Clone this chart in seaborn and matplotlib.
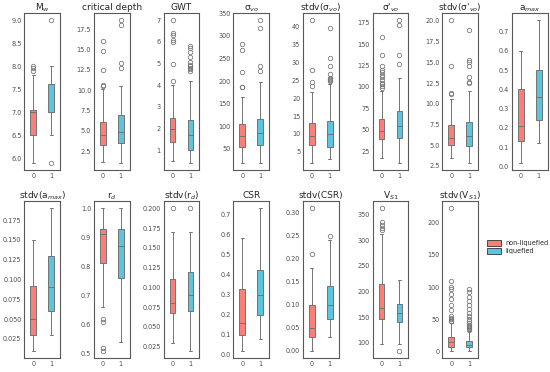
import matplotlib
matplotlib.use("Agg")
from matplotlib import pyplot as plt
from matplotlib.patches import Patch
from matplotlib.ticker import MultipleLocator
import pandas as pd
import seaborn as sns

# panel titles, in drawing order
titles = ["M$_w$", "critical depth", "GWT", "σ$_{vo}$", "stdv(σ$_{vo}$)",
          "σ'$_{vo}$", "stdv(σ'$_{vo}$)", "a$_{max}$", "stdv(a$_{max}$)",
          "r$_d$", "stdv(r$_d$)", "CSR", "stdv(CSR)", "V$_{S1}$", "stdv(V$_{S1}$)"]
ytick_step = [0.5, 2.5, 1, 50, 5, 25, 2.5, 0.1, 0.025, 0.1, 0.025, 0.1, 0.05, 50, 50]

# box summaries: whisker low, q1, median, q3, whisker high
non_liq_box = [
    [5.9, 6.5, 7.0, 7.04, 7.8],
    [1.2, 3.3, 4.5, 6.1, 10.2],
    [0.5, 1.4, 2.0, 2.5, 4.0],
    [19, 54, 77, 104, 164],
    [2.0, 7.0, 9.4, 13.0, 21.8],
    [17, 39, 49, 62, 95],
    [3.5, 5.0, 5.9, 7.4, 10.6],
    [0.02, 0.13, 0.21, 0.40, 0.60],
    [0.01, 0.03, 0.05, 0.092, 0.15],
    [0.66, 0.81, 0.91, 0.93, 1.0],
    [0.03, 0.068, 0.08, 0.11, 0.17],
    [0.02, 0.10, 0.16, 0.33, 0.58],
    [0.0, 0.03, 0.05, 0.10, 0.18],
    [98, 146, 167, 214, 312],
    [1.5, 7.7, 14.3, 23, 45],
]
liq_box = [
    [6.5, 7.0, 7.0, 7.6, 8.0],
    [1.1, 3.5, 4.9, 6.9, 10.5],
    [0.43, 1.03, 1.72, 2.41, 4.2],
    [19, 59, 85, 116, 198],
    [3.0, 6.5, 9.9, 13.7, 24.0],
    [11.5, 40.5, 54, 72, 110],
    [2.9, 4.9, 6.1, 7.8, 11.6],
    [0.12, 0.24, 0.36, 0.50, 0.76],
    [0.03, 0.06, 0.09, 0.13, 0.19],
    [0.54, 0.76, 0.87, 0.93, 1.0],
    [0.02, 0.07, 0.09, 0.12, 0.17],
    [0.08, 0.20, 0.30, 0.42, 0.73],
    [0.03, 0.07, 0.10, 0.14, 0.24],
    [98, 140, 158, 175, 222],
    [1.5, 6.6, 10.7, 17, 32],
]
non_liq_out = [
    [7.9, 7.95, 8.0],
    [10.5, 10.6, 12.5, 14.8, 16.0],
    [4.2, 5.0, 6.0, 6.1, 6.3, 6.4, 7.0],
    [186, 187, 220, 269, 283],
    [23.5, 24.5, 28.0, 41.8],
    [99, 101, 103, 105, 108, 111, 114, 117, 120, 124, 137, 158],
    [11.2, 11.3, 14.6, 20.1],
    [],
    [],
    [0.51, 0.52, 0.61, 0.62],
    [0.2],
    [],
    [0.21, 0.31],
    [320, 325, 330, 336, 363],
    [47, 48, 50, 52, 55, 64, 73, 82, 90, 97, 100, 110, 222],
]
liq_out = [
    [5.9, 9.0],
    [12.7, 13.3, 18.0, 18.6],
    [4.65, 4.75, 4.8, 4.87, 4.95, 5.05, 5.3, 5.55, 5.7, 5.8],
    [223, 234, 318, 335],
    [24.7, 25.0, 25.3, 25.6, 26.8, 28.9, 31.3, 39.5],
    [127, 137, 172, 178],
    [12.5, 12.6, 13.2, 14.6, 15.0, 15.3, 18.9],
    [],
    [],
    [],
    [0.2],
    [],
    [0.25],
    [84],
    [34, 36, 38, 40, 42, 45, 47, 50, 55, 60, 66, 72, 78, 85, 92, 97],
]

colors = ["#fb7f76", "#5bc5e0"]
labels = ["non-liquefied", "liquefied"]


def sample(box, outliers):
    # lay the summary out as a sample whose quartiles land exactly on q1/median/q3
    lo, q1, med, q3, hi = box
    low = [v for v in outliers if v < q1] + [lo]
    high = [hi] + [v for v in outliers if v > q3]
    m = 4 * (len(low) + len(high)) + 4
    return low + [q1] * m + [med] * m + [q3] * m + high


rows = []
for i, t in enumerate(titles):
    for cls, (box, out) in enumerate([(non_liq_box[i], non_liq_out[i]),
                                      (liq_box[i], liq_out[i])]):
        for v in sample(box, out):
            rows.append({"var": t, "liquefied": str(cls), "value": v})
df = pd.DataFrame(rows)

sns.set_style("white")
plt.rcParams["font.family"] = ["DejaVu Sans"]
plt.rcParams["axes.edgecolor"] = "0.35"
plt.rcParams["axes.linewidth"] = 0.8

fig, axes = plt.subplots(2, 8, figsize=(5.5, 3.72), dpi=100)
fig.subplots_adjust(left=0.044, right=0.996, top=0.965, bottom=0.038,
                    wspace=0.94, hspace=0.2)

for i, t in enumerate(titles):
    ax = axes.flat[i]
    sub = df[df["var"] == t]
    sns.boxplot(data=sub, x="liquefied", y="value", hue="liquefied",
                order=["0", "1"], hue_order=["0", "1"], palette=colors,
                saturation=1, width=0.33, dodge=False, legend=False,
                linecolor="0.45", linewidth=0.7, fliersize=3.2,
                flierprops={"markeredgecolor": "0.45", "markeredgewidth": 0.55},
                ax=ax)
    ax.set_title(t, fontsize=6.5, pad=2, color="0.15")
    ax.set_xlabel("")
    ax.set_ylabel("")
    ax.yaxis.set_major_locator(MultipleLocator(ytick_step[i]))
    ax.tick_params(labelsize=4.7, pad=2, length=0, colors="0.3")

axes[1, 7].axis("off")

handles = [Patch(facecolor=c, edgecolor="0.2", linewidth=0.6, label=l)
           for c, l in zip(colors, labels)]
fig.legend(handles=handles, loc="center left", bbox_to_anchor=(0.875, 0.335),
           frameon=False, fontsize=4.7, handlelength=2.2, handleheight=0.9,
           labelspacing=0.3, handletextpad=0.6)

fig.savefig("out.png", dpi=100)
